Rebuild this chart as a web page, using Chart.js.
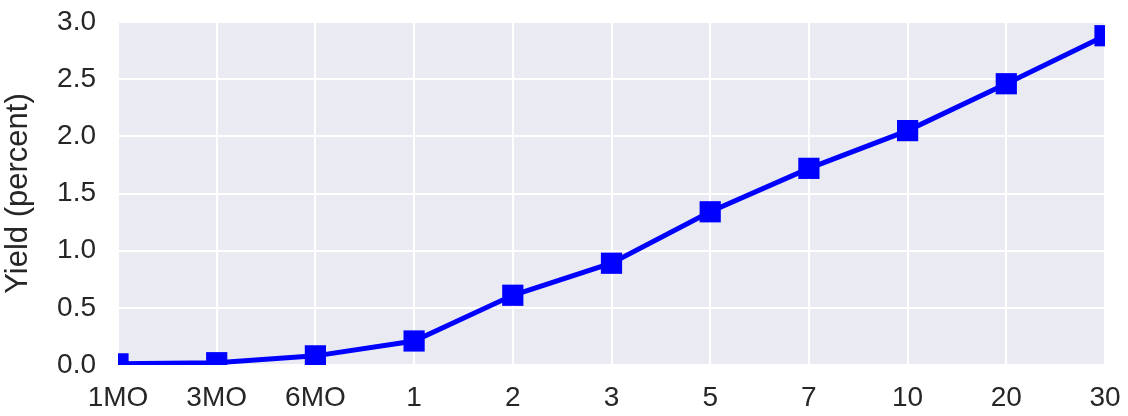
<!DOCTYPE html>
<html>
<head>
<meta charset="utf-8">
<script src="https://cdn.jsdelivr.net/npm/chart.js@4.4.0/dist/chart.umd.min.js"></script>
<style>
  html, body { margin: 0; padding: 0; background: #fff; }
  #wrap { width: 1128px; height: 416px; }
</style>
</head>
<body>
<div id="wrap"><canvas id="curva"></canvas></div>
<script>
// maturities on the x axis
const maturities = ['1MO', '3MO', '6MO', '1', '2', '3', '5', '7', '10', '20', '30'];
// yield in percent
const yields = [0.01, 0.02, 0.08, 0.21, 0.61, 0.89, 1.34, 1.72, 2.05, 2.46, 2.88];
const yTicks = [0, 0.5, 1.0, 1.5, 2.0, 2.5, 3.0];

// paint the seaborn-like grey behind the plot
const fondo = {
    id: 'fondo',
    beforeDraw(chart) {
        const a = chart.chartArea;
        const ctx = chart.ctx;
        ctx.save();
        ctx.fillStyle = '#EAEAF2';
        ctx.fillRect(a.left, a.top, a.right - a.left, a.bottom - a.top);
        ctx.restore();
    }
};

const ctx = document.getElementById('curva').getContext('2d');
new Chart(ctx, {
    type: 'line',
    data: {
        labels: maturities,
        datasets: [{
            label: 'Yield',
            data: yields,
            borderColor: '#0000FF',
            backgroundColor: '#0000FF',
            borderWidth: 5,
            pointStyle: 'rect',
            pointRadius: 15,
            pointBorderWidth: 0,
            pointHoverRadius: 15,
            tension: 0,
            clip: 0
        }]
    },
    options: {
        responsive: true,
        maintainAspectRatio: false,
        animation: false,
        layout: { padding: { top: 22, right: 23, left: 0, bottom: 0 } },
        plugins: {
            legend: { display: false },
            tooltip: { enabled: false }
        },
        scales: {
            x: {
                offset: false,
                grid: { color: '#FFFFFF', lineWidth: 2, tickLength: 0, z: 0 },
                border: { display: false },
                ticks: {
                    color: '#262626',
                    font: { family: 'Liberation Sans, Arial, sans-serif', size: 28 },
                    padding: 16,
                    maxRotation: 0,
                    autoSkip: false
                },
                afterFit(scale) {
                    scale.height = 51;
                    scale.paddingLeft = 0;
                    scale.paddingRight = 0;
                }
            },
            y: {
                min: 0,
                max: 3,
                afterBuildTicks(scale) { scale.ticks = yTicks.map(v => ({ value: v })); },
                grid: { color: '#FFFFFF', lineWidth: 2, tickLength: 0 },
                border: { display: false },
                ticks: {
                    color: '#262626',
                    font: { family: 'Liberation Sans, Arial, sans-serif', size: 28 },
                    padding: 22,
                    callback: v => v.toFixed(1)
                },
                title: {
                    display: true,
                    text: 'Yield (percent)',
                    color: '#262626',
                    font: { family: 'Liberation Sans, Arial, sans-serif', size: 31 },
                    padding: { top: 0, bottom: 4 }
                },
                afterFit(scale) {
                    scale.width = 118;
                    scale.paddingTop = 0;
                    scale.paddingBottom = 0;
                }
            }
        }
    },
    plugins: [fondo]
});
</script>
</body>
</html>
